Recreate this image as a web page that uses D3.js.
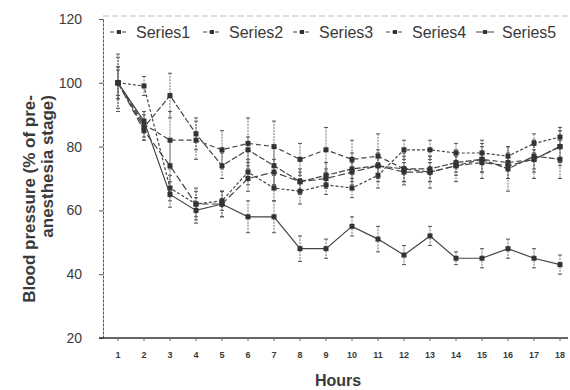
<!DOCTYPE html>
<html>
<head>
<meta charset="utf-8">
<title>Blood pressure</title>
<script src="https://d3js.org/d3.v7.min.js"></script>
<style>
  body { margin: 0; background: #fff; }
  text { font-family: "Liberation Sans", Arial, sans-serif; fill: #3a3a3a; }
</style>
</head>
<body>
<div id="chart"></div>
<script>
var hours = [1,2,3,4,5,6,7,8,9,10,11,12,13,14,15,16,17,18];
var seriesNames = ["Series1","Series2","Series3","Series4","Series5"];

var series1 = [100, 87, 82, 82, 79, 81, 80, 76, 79, 76, 77, 73, 72, 74, 76, 75, 76, 80];
var series2 = [100, 86, 96, 84, 74, 79, 74, 69, 71, 73, 74, 73, 73, 75, 76, 73, 77, 76];
var series3 = [100, 99, 67, 62, 63, 72, 67, 66, 68, 67, 71, 79, 79, 78, 78, 77, 81, 83];
var series4 = [100, 85, 74, 62, 62, 70, 72, 69, 70, 72, 74, 72, 72, 74, 75, 74, 76, 80];
var series5 = [100, 88, 65, 60, 62, 58, 58, 48, 48, 55, 51, 46, 52, 45, 45, 48, 45, 43];

// half-length of the error bars
var err1 = [9, 4, 9, 6, 6, 8, 8, 5, 7, 6, 7, 5, 5, 5, 6, 5, 6, 6];
var err2 = [8, 4, 7, 5, 4, 4, 6, 4, 4, 5, 5, 4, 4, 3, 4, 7, 5, 6];
var err3 = [5, 3, 4, 4, 3, 4, 4, 4, 3, 3, 4, 3, 3, 3, 3, 3, 3, 3];
var err4 = [5, 3, 8, 5, 4, 4, 4, 3, 3, 3, 4, 3, 3, 3, 3, 4, 3, 5];
var err5 = [4, 3, 4, 4, 4, 5, 5, 4, 3, 3, 4, 3, 3, 2, 3, 3, 3, 3];

var yTicks = [20, 40, 60, 80, 100, 120];

var allSeries = [series1, series2, series3, series4, series5];
var allErr = [err1, err2, err3, err4, err5];
var dashes = ["5,3", "6,2", "3,2", "7,3", "4,2"];

var w = 570, h = 390;
var margin = {top: 19, right: 2, bottom: 52, left: 103};
var wChart = w - margin.left - margin.right;
var hChart = h - margin.top - margin.bottom;

var svg = d3.select("#chart").append("svg")
    .attr("width", w)
    .attr("height", h);

var chart = svg.append("g")
    .attr("transform", "translate(" + margin.left + "," + margin.top + ")");

var x = d3.scaleBand()
    .domain(hours)
    .range([2, 470]);

var y = d3.scaleLinear()
    .domain([20, 120])
    .range([hChart, 0]);

function cx(d, i) { return x(hours[i]) + x.bandwidth() / 2; }

// faint top border of plot area
chart.append("line")
    .attr("x1", 0).attr("x2", wChart)
    .attr("y1", -3).attr("y2", -3)
    .attr("stroke", "#bbb")
    .attr("stroke-dasharray", "6,3");

// y axis
var yAxis = d3.axisLeft(y).tickValues(yTicks).tickSize(4).tickSizeOuter(0);
var gy = chart.append("g").call(yAxis);
gy.select(".domain").attr("stroke", "#555").attr("stroke-dasharray", "3,1");
gy.selectAll(".tick line").attr("stroke", "#555");
gy.selectAll("text").attr("font-size", 14).attr("fill", "#444").attr("x", -21);

// x axis
var xAxis = d3.axisBottom(x).tickSize(3).tickSizeOuter(0);
var gx = chart.append("g")
    .attr("transform", "translate(0," + hChart + ")")
    .call(xAxis);
gx.select(".domain").attr("stroke", "#333").attr("stroke-width", 1.4)
    .attr("d", "M-4,0H" + wChart);
gx.selectAll(".tick line").attr("stroke", "#666");
gx.selectAll("text").attr("font-size", 9).attr("font-weight", "bold")
    .attr("fill", "#444").attr("dy", "1.6em");

// error bars
allSeries.forEach(function(s, k) {
    var eb = chart.append("g").attr("class", "err");
    eb.selectAll("line.v").data(s).enter().append("line")
        .attr("class", "v")
        .attr("x1", cx).attr("x2", cx)
        .attr("y1", function(d, i) { return y(d + allErr[k][i]); })
        .attr("y2", function(d, i) { return y(d - allErr[k][i]); })
        .attr("stroke", "#666")
        .attr("stroke-width", 0.9)
        .attr("stroke-dasharray", "2,1");
    [1, -1].forEach(function(sg) {
        eb.selectAll("line.c" + (sg > 0 ? "t" : "b")).data(s).enter().append("line")
            .attr("x1", function(d, i) { return cx(d, i) - 2; })
            .attr("x2", function(d, i) { return cx(d, i) + 2; })
            .attr("y1", function(d, i) { return y(d + sg * allErr[k][i]); })
            .attr("y2", function(d, i) { return y(d + sg * allErr[k][i]); })
            .attr("stroke", "#555");
    });
});

// lines
var line = d3.line()
    .x(cx)
    .y(function(d) { return y(d); });

allSeries.forEach(function(s, k) {
    chart.append("path")
        .datum(s)
        .attr("fill", "none")
        .attr("stroke", "#444")
        .attr("stroke-width", 1.2)
        .attr("stroke-dasharray", k === 4 ? null : dashes[k])
        .attr("d", line);
    chart.selectAll(".m" + k).data(s).enter().append("rect")
        .attr("x", function(d, i) { return cx(d, i) - 2.5; })
        .attr("y", function(d) { return y(d) - 2.5; })
        .attr("width", 5).attr("height", 5)
        .attr("fill", "#333");
});

// legend
var legX = [110, 203, 293, 386, 476];
var leg = svg.append("g").attr("transform", "translate(0,32)");
seriesNames.forEach(function(n, k) {
    var g = leg.append("g").attr("transform", "translate(" + legX[k] + ",0)");
    g.append("line").attr("x1", 0).attr("x2", 18).attr("y1", 0).attr("y2", 0)
        .attr("stroke", "#444").attr("stroke-dasharray", k === 4 ? null : "4,2");
    g.append("rect").attr("x", 7).attr("y", -2).attr("width", 4).attr("height", 4).attr("fill", "#333");
    g.append("text").attr("x", 26).attr("y", 5.5).attr("font-size", 16).attr("fill", "#444").text(n);
});

// axis titles
svg.append("text")
    .attr("transform", "translate(35,95) rotate(-90)")
    .attr("text-anchor", "end")
    .attr("font-size", 17)
    .attr("font-weight", "bold")
    .text("Blood pressure (% of pre-");
svg.append("text")
    .attr("transform", "translate(53,95) rotate(-90)")
    .attr("text-anchor", "end")
    .attr("font-size", 17)
    .attr("font-weight", "bold")
    .text("anesthesia stage)");

svg.append("text")
    .attr("x", 338).attr("y", 386)
    .attr("text-anchor", "middle")
    .attr("font-size", 16)
    .attr("font-weight", "bold")
    .text("Hours");
</script>
</body>
</html>
